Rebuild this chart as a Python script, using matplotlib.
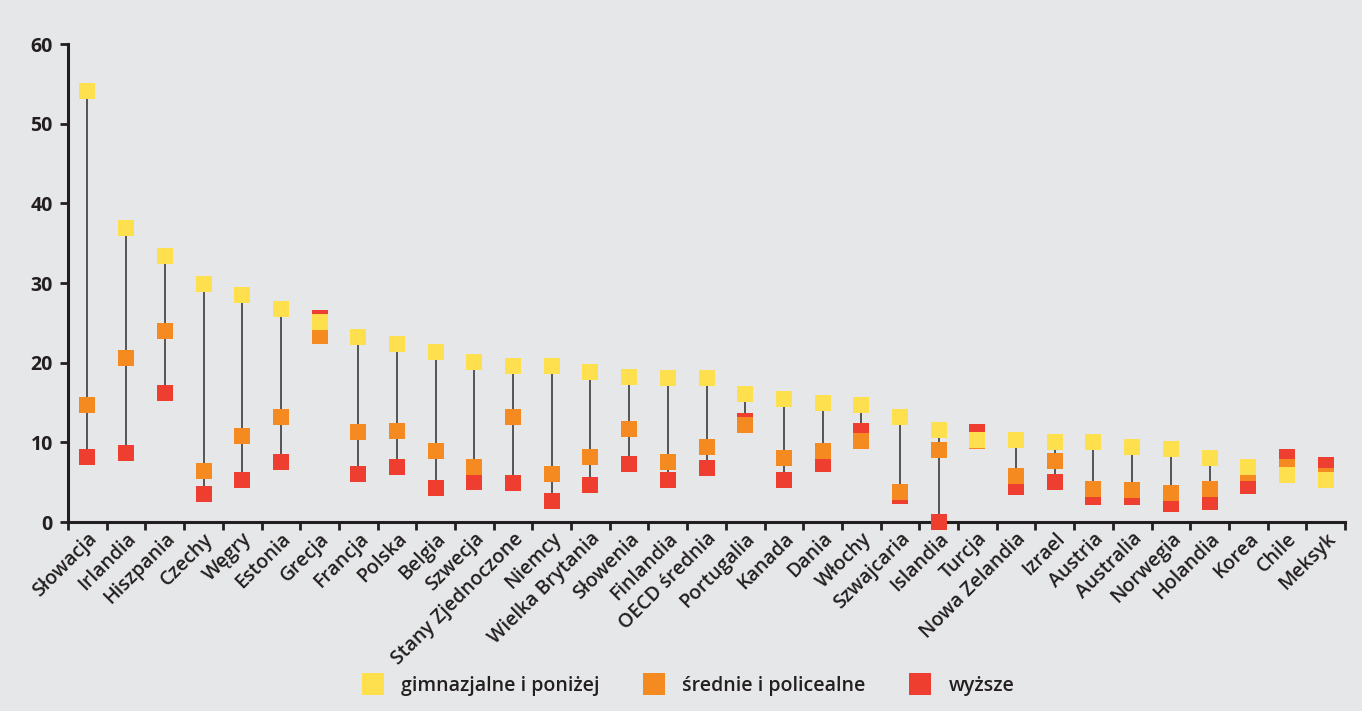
import matplotlib

matplotlib.use("Agg")
import matplotlib.pyplot as plt
from matplotlib.lines import Line2D

plt.rcParams["font.family"] = ["Open Sans", "DejaVu Sans"]

COUNTRIES = ["Słowacja", "Irlandia", "Hiszpania", "Czechy", "Węgry", "Estonia",
             "Grecja", "Francja", "Polska", "Belgia", "Szwecja", "Stany Zjednoczone",
             "Niemcy", "Wielka Brytania", "Słowenia", "Finlandia", "OECD średnia",
             "Portugalia", "Kanada", "Dania", "Włochy", "Szwajcaria", "Islandia",
             "Turcja", "Nowa Zelandia", "Izrael", "Austria", "Australia", "Norwegia",
             "Holandia", "Korea", "Chile", "Meksyk"]

# gimnazjalne i poniżej
GIMN = [54.1, 36.9, 33.4, 29.9, 28.5, 26.7, 25.1, 23.2, 22.3, 21.3, 20.1, 19.6,
        19.6, 18.8, 18.2, 18.1, 18.1, 16.1, 15.4, 14.9, 14.7, 13.2, 11.5, 10.3,
        10.3, 10.0, 10.0, 9.4, 9.2, 8.0, 6.9, 5.9, 5.3]
# średnie i policealne
SRED = [14.7, 20.6, 24.0, 6.4, 10.8, 13.2, 23.3, 11.3, 11.4, 8.9, 6.9, 13.2,
        6.0, 8.2, 11.7, 7.5, 9.4, 12.2, 8.0, 8.9, 10.2, 3.8, 9.0, 10.2,
        5.8, 7.7, 4.1, 4.0, 3.6, 4.1, 6.1, 6.9, 5.8]
# wyższe
WYZ = [8.2, 8.7, 16.2, 3.5, 5.3, 7.5, 25.6, 6.0, 6.9, 4.3, 5.0, 4.9,
       2.6, 4.6, 7.3, 5.3, 6.8, 12.7, 5.3, 7.3, 11.4, 3.3, 0.0, 11.3,
       4.4, 5.0, 3.2, 3.2, 2.3, 2.5, 4.5, 8.2, 7.2]

LABELS = ["gimnazjalne i poniżej", "średnie i policealne", "wyższe"]
YELLOW, ORANGE, RED = "#fedf4e", "#f58b20", "#ee3e2f"
BG = "#e6e7e8"
INK = "#231f20"

fig = plt.figure(figsize=(13.62, 7.11), dpi=100, facecolor=BG)
ax = fig.add_axes([0.05, 0.2658, 0.9375, 0.6723], facecolor=BG)

x = list(range(len(COUNTRIES)))
lo = [min(a, b, c) for a, b, c in zip(GIMN, SRED, WYZ)]
hi = [max(a, b, c) for a, b, c in zip(GIMN, SRED, WYZ)]
ax.vlines(x, lo, hi, color="#3c3c3c", lw=1.2, zorder=1)

ms = 11.5
ax.plot(x, WYZ, "s", color=RED, ms=ms, mew=0, zorder=3, clip_on=False)
ax.plot(x, SRED, "s", color=ORANGE, ms=ms, mew=0, zorder=4, clip_on=False)
ax.plot(x, GIMN, "s", color=YELLOW, ms=ms, mew=0, zorder=5, clip_on=False)

ax.set_xlim(-0.5, len(COUNTRIES) - 0.5)
ax.set_ylim(0, 60)
ax.set_yticks(range(0, 61, 10))
ax.tick_params(axis="y", length=6, width=2, labelsize=14, pad=5, colors=INK)
for lab in ax.get_yticklabels():
    lab.set_fontweight("bold")

ax.set_xticks(x)
ax.set_xticklabels(COUNTRIES, rotation=45, ha="right", va="top",
                   rotation_mode="anchor", fontsize=14, fontweight="semibold",
                   color=INK)
ax.tick_params(axis="x", which="major", length=0, pad=5)
ax.set_xticks([i - 0.5 for i in range(len(COUNTRIES) + 1)], minor=True)
ax.tick_params(axis="x", which="minor", length=6, width=2, color=INK)

for s in ("top", "right"):
    ax.spines[s].set_visible(False)
for s in ("left", "bottom"):
    ax.spines[s].set_linewidth(2.2)
    ax.spines[s].set_color(INK)

handles = [Line2D([], [], marker="s", ls="none", color=c, ms=16.5, mew=0)
           for c in (YELLOW, ORANGE, RED)]
leg = fig.legend(handles, LABELS, loc="center", bbox_to_anchor=(0.505, 0.035),
                 ncol=3, frameon=False, handlelength=1.2, handletextpad=0.85,
                 columnspacing=2.2, prop={"size": 14, "weight": "semibold"})
for t in leg.get_texts():
    t.set_color(INK)

fig.savefig("out.png", dpi=100, facecolor=BG)
